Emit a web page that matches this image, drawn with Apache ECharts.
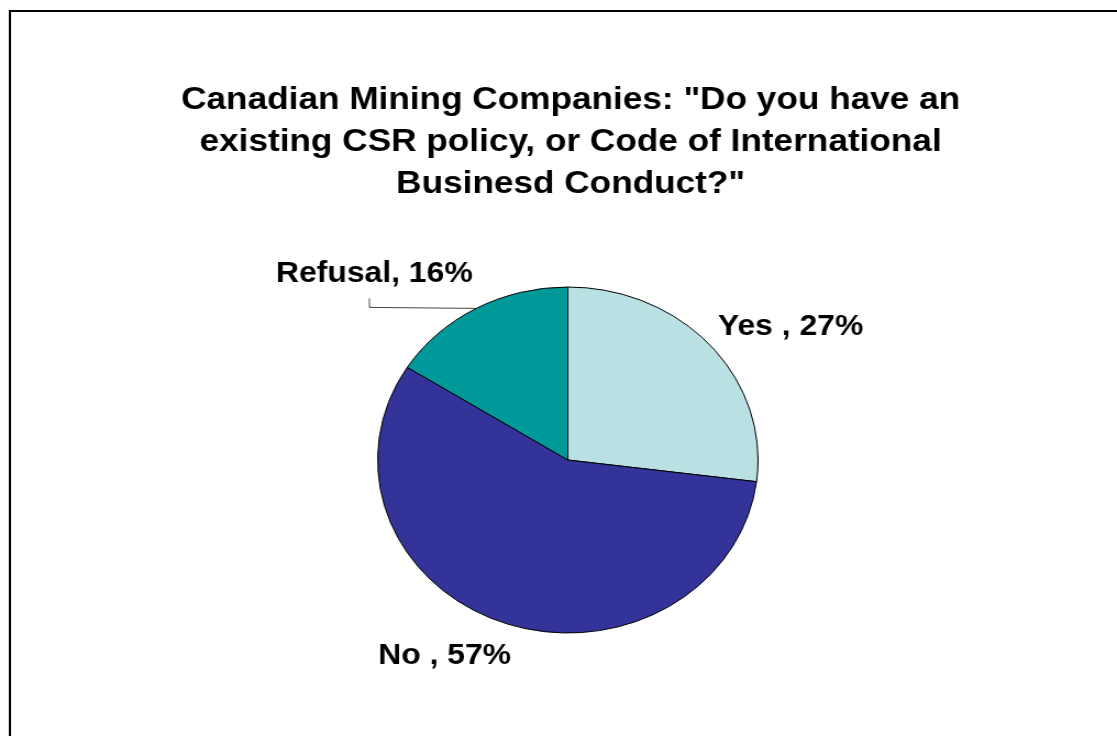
<!DOCTYPE html>
<html>
<head>
<meta charset="utf-8">
<script src="https://cdn.jsdelivr.net/npm/echarts@6/dist/echarts.min.js"></script>
<style>
  html, body { margin: 0; padding: 0; background: #fff; overflow: hidden; }
  /* the chart is laid out on a narrower canvas and widened, giving the oval pie */
  #chart { width: 1016px; height: 736px; transform: scaleX(1.0994); transform-origin: 0 0; }
</style>
</head>
<body>
<div id="chart"></div>
<script>
const titleLines = [
  'Canadian Mining Companies: "Do you have an',
  'existing CSR policy, or Code of International',
  'Businesd Conduct?"'
];
const categories = ['Yes ', 'No ', 'Refusal'];
const shares = [27, 57, 16];
const sliceColors = ['#b9e0e3', '#333399', '#009999'];

const chart = echarts.init(document.getElementById('chart'), null, { renderer: 'canvas' });

const pieData = categories.map((name, i) => ({
  name: name,
  value: shares[i],
  itemStyle: { color: sliceColors[i] },
  labelLine: { show: i === 2 }
}));

// label anchor positions (left edge, vertical middle), in chart coordinates
const labelSpots = [
  { x: 653, y: 327 },
  { x: 344, y: 656 },
  { x: 251, y: 274 }
];

chart.setOption({
  backgroundColor: '#ffffff',
  animation: false,
  title: {
    text: titleLines.join('\n'),
    left: 514,
    top: 74,
    textAlign: 'center',
    textStyle: {
      fontFamily: 'Liberation Sans, Arial, sans-serif',
      fontWeight: 'bold',
      fontSize: 32,
      lineHeight: 42,
      color: '#000'
    }
  },
  graphic: [{
    type: 'rect',
    shape: { x: 9, y: 11, width: 2000, height: 2000 },
    style: { fill: 'none', stroke: '#000', lineWidth: 2 },
    silent: true
  }],
  series: [{
    type: 'pie',
    center: [516.5, 460],
    radius: [0, 173],
    startAngle: 90,
    clockwise: true,
    avoidLabelOverlap: false,
    itemStyle: { borderColor: '#000', borderWidth: 1 },
    label: {
      show: true,
      position: 'outside',
      formatter: p => p.name + ', ' + p.value + '%',
      fontFamily: 'Liberation Sans, Arial, sans-serif',
      fontWeight: 'bold',
      fontSize: 29,
      color: '#000'
    },
    labelLine: {
      show: true,
      lineStyle: { color: '#444', width: 1 }
    },
    emphasis: { disabled: true },
    labelLayout: function (p) {
      const spot = labelSpots[p.dataIndex];
      const out = { x: spot.x, y: spot.y, align: 'left', verticalAlign: 'middle' };
      if (p.dataIndex === 2 && p.labelLinePoints) {
        const edge = p.labelLinePoints[0];
        const bendX = spot.x + 85;
        out.labelLinePoints = [
          [edge[0], edge[1]],
          [bendX, edge[1] - 1],
          [bendX, edge[1] - 10]
        ];
      }
      return out;
    },
    data: pieData
  }]
});
</script>
</body>
</html>
